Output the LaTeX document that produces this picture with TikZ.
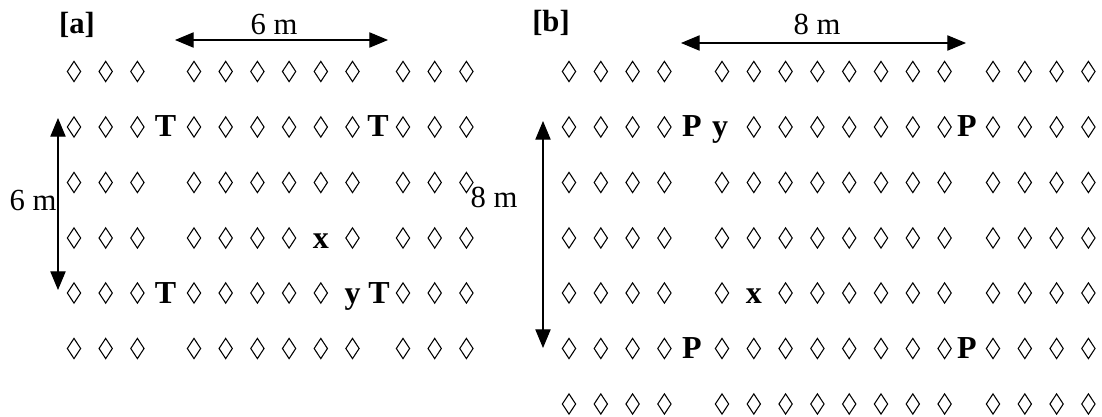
\documentclass[tikz,border=0pt]{standalone}
\usepackage{fontspec}
\setmainfont{Liberation Serif}
\usetikzlibrary{shapes.geometric,arrows.meta}
\begin{document}
\begin{tikzpicture}[x=0.75pt,y=-0.75pt,
  lz/.style={shape=diamond,draw,line width=0.8pt,inner sep=0pt,minimum width=10.3pt,minimum height=15.5pt},
  mk/.style={font=\fontsize{24}{24}\selectfont\bfseries,inner sep=0pt,anchor=base},
  lab/.style={font=\fontsize{23}{23}\selectfont,inner sep=0pt},
  blab/.style={font=\fontsize{23}{23}\selectfont\bfseries,inner sep=0pt},
  dim/.style={line width=0.8pt,{Triangle[length=14pt,width=11.5pt]}-{Triangle[length=14pt,width=11.5pt]}}]
\useasboundingbox (0,0) rectangle (1102,417);
% panel a diamonds
\foreach \r/\y in {1/71.5,2/127,3/182.5,4/238,5/293,6/348.5}{
  \foreach \c/\x in {1/74,2/105.7,3/137.4,4/194,5/225.7,6/257.4,7/289.1,8/320.8,9/352.5,10/403,11/434.7,12/466.4}{
    \pgfmathtruncatemacro\skipit{(\r==4 && \c==8) || (\r==5 && \c==9)}
    \ifnum\skipit=0 \node[lz] (a\r-\c) at (\x,\y) {};\fi
  }
}
% panel b diamonds
\foreach \r/\y in {1/71.5,2/127,3/182.5,4/238,5/293,6/348.5,7/404}{
  \foreach \c/\x in {1/569,2/600.8,3/632.6,4/664.4,5/722,6/753.8,7/785.6,8/817.4,9/849.2,10/881,11/912.8,12/944.6,13/993,14/1024.8,15/1056.6,16/1088.4}{
    \pgfmathtruncatemacro\skipit{(\r==2 && \c==5) || (\r==5 && \c==6)}
    \ifnum\skipit=0 \node[lz] (b\r-\c) at (\x,\y) {};\fi
  }
}
% letters panel a
\node[mk] (aT1) at (165.5,137) {T};
\node[mk] (aT2) at (378,137) {T};
\node[mk] (aT3) at (165.5,303) {T};
\node[mk] (aT4) at (379,303) {T};
\node[mk] (ax) at (320.8,248) {x};
\node[mk] (ay) at (352.5,303) {y};
% letters panel b
\node[mk] (bP1) at (692,137) {P};
\node[mk] (bP2) at (967,137) {P};
\node[mk] (bP3) at (692,358.5) {P};
\node[mk] (bP4) at (967,358.5) {P};
\node[mk] (by) at (720,137) {y};
\node[mk] (bx) at (753.8,303) {x};
% labels
\node[blab] (la) at (77,25) {[a]};
\node[blab] (lb) at (551,23) {[b]};
\node[lab] (ta) at (274,24) {6 m};
\node[lab] (tb) at (817,24) {8 m};
\node[lab] (sa) at (33,200) {6 m};
\node[lab] (sb) at (494,197) {8 m};
% dimension arrows
\coordinate (ha1) at (175,40); \coordinate (ha2) at (388,40);
\coordinate (hb1) at (681,43); \coordinate (hb2) at (966,43);
\coordinate (va1) at (58,118); \coordinate (va2) at (58,290);
\coordinate (vb1) at (543,121); \coordinate (vb2) at (543,348);
\draw[dim] (ha1) -- (ha2);
\draw[dim] (hb1) -- (hb2);
\draw[dim] (va1) -- (va2);
\draw[dim] (vb1) -- (vb2);
\end{tikzpicture}
\end{document}
